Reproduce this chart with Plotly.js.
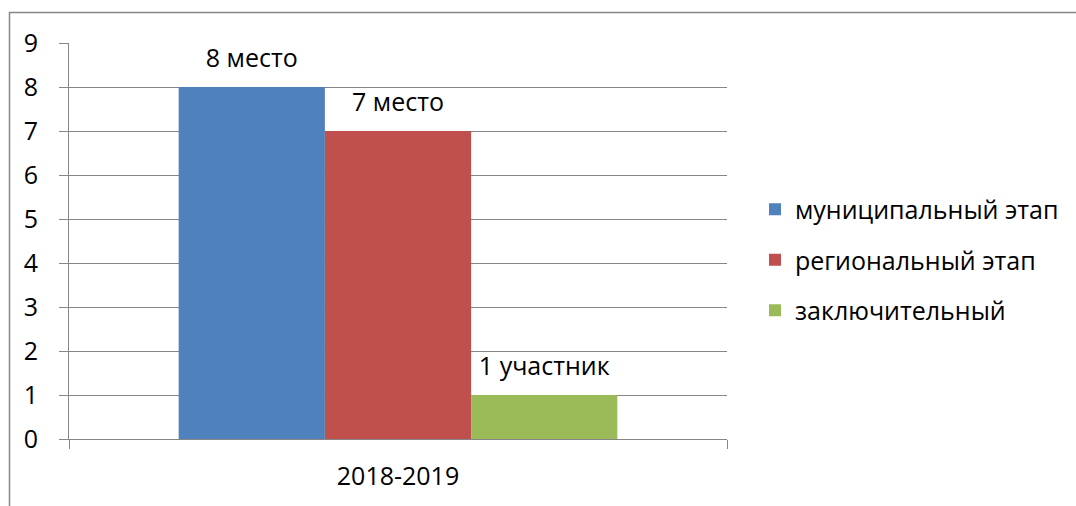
<!DOCTYPE html>
<html>
<head>
<meta charset="utf-8">
<script src="https://cdn.plot.ly/plotly-3.0.1.min.js"></script>
<style>
html,body{margin:0;padding:0;background:#fff;}
#chart{width:1076px;height:506px;}
</style>
</head>
<body>
<div id="chart"></div>
<script>
// Data
const categories = ["2018-2019"];
const seriesNames = ["муниципальный этап", "региональный этап", "заключительный"];
const municipalValues = [8];
const regionalValues = [7];
const finalValues = [1];
const municipalLabels = ["8 место"];
const regionalLabels = ["7 место"];
const finalLabels = ["1 участник"];
const yTickValues = [0, 1, 2, 3, 4, 5, 6, 7, 8, 9];

const colors = ["#4F81BD", "#C0504D", "#9BBB59"];
const values = [municipalValues, regionalValues, finalValues];
const labels = [municipalLabels, regionalLabels, finalLabels];
const FONT = "Open Sans, Noto Sans, sans-serif";
const FS = 25;

const traces = [];
values.forEach((v, i) => {
  traces.push({
    type: "bar",
    name: seriesNames[i],
    x: categories,
    y: v,
    marker: {color: colors[i], line: {width: 0}},
    legendgroup: "g" + i,
    offsetgroup: "b" + i,
    hoverinfo: "skip"
  });
});
values.forEach((v, i) => {
  traces.push({
    type: "scatter",
    mode: "markers+text",
    x: categories,
    y: v,
    text: labels[i],
    textposition: "top center",
    textfont: {family: FONT, size: FS, color: "#000"},
    marker: {size: 20, opacity: 0, color: colors[i]},
    showlegend: false,
    offsetgroup: "b" + i,
    cliponaxis: false,
    hoverinfo: "skip"
  });
});

const L = 69, R = 727, T = 43, B = 439, W = 1076, H = 506;
const pw = R - L, ph = B - T;

const layout = {
  width: W, height: H,
  margin: {l: L, r: W - R, t: T, b: H - B, pad: 0},
  paper_bgcolor: "#fff",
  plot_bgcolor: "#fff",
  font: {family: FONT, size: FS, color: "#000"},
  barmode: "group",
  bargap: 1/3,
  bargroupgap: 0,
  scattermode: "group",
  scattergap: 1/3,
  showlegend: true,
  legend: {
    x: (755 - L) / pw, xanchor: "left",
    y: (B - 260) / ph, yanchor: "middle",
    traceorder: "grouped",
    tracegroupgap: 15,
    font: {family: FONT, size: FS, color: "#000"},
    bgcolor: "rgba(0,0,0,0)"
  },
  xaxis: {
    type: "category",
    tickson: "boundaries",
    ticks: "outside",
    ticklen: 9,
    tickcolor: "#868686",
    tickwidth: 1,
    showline: true,
    linecolor: "#868686",
    linewidth: 1,
    showgrid: false,
    zeroline: false,
    ticklabelstandoff: 15,
    tickfont: {family: FONT, size: FS, color: "#000"},
    fixedrange: true
  },
  yaxis: {
    range: [0, 9],
    tickmode: "array",
    tickvals: yTickValues,
    ticktext: yTickValues.map(String),
    ticks: "outside",
    ticklen: 9,
    tickcolor: "#868686",
    tickwidth: 1,
    showline: true,
    linecolor: "#868686",
    linewidth: 1,
    showgrid: true,
    gridcolor: "#868686",
    gridwidth: 1,
    zeroline: false,
    ticklabelstandoff: 16,
    tickfont: {family: FONT, size: FS, color: "#000"},
    fixedrange: true
  },
  shapes: [{
    type: "rect", xref: "paper", yref: "paper",
    x0: (9.5 - L) / pw, x1: (W + 20 - L) / pw,
    y0: (B - (H + 20)) / ph, y1: (B - 12.5) / ph,
    line: {color: "#868686", width: 1.5},
    fillcolor: "rgba(0,0,0,0)",
    layer: "below"
  }]
};

Plotly.newPlot("chart", traces, layout, {displayModeBar: false, staticPlot: true});
</script>
</body>
</html>
